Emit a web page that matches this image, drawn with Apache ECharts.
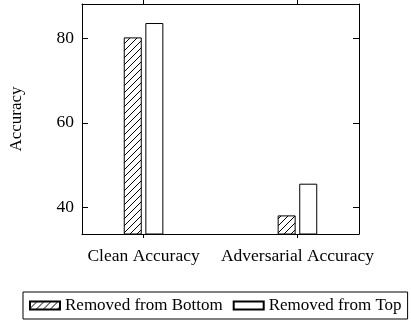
<!DOCTYPE html>
<html><head><meta charset="utf-8">
<script src="https://cdn.jsdelivr.net/npm/echarts@6/dist/echarts.min.js"></script>
<style>html,body{margin:0;padding:0;background:#fff}#c{width:411px;height:323px}</style>
</head><body><div id="c"></div>
<script>
const categories = ['Clean Accuracy', 'Adversarial Accuracy'];
const removedBottom = [80.2, 38.1];
const removedTop = [83.6, 45.6];
const yTicks = [40, 60, 80];
const seriesNames = ['Removed from Bottom', 'Removed from Top'];

function hatch() {
  const s = 7;
  const c = document.createElement('canvas');
  c.width = s; c.height = s;
  const g = c.getContext('2d');
  g.fillStyle = '#fff'; g.fillRect(0, 0, s, s);
  g.strokeStyle = '#000'; g.lineWidth = 1;
  g.beginPath();
  g.moveTo(-1, s + 1); g.lineTo(s + 1, -1);
  g.moveTo(-1, 1); g.lineTo(1, -1);
  g.moveTo(s - 1, s + 1); g.lineTo(s + 1, s - 1);
  g.stroke();
  return c;
}
const font = 'Liberation Serif';
const chart = echarts.init(document.getElementById('c'), null, {renderer: 'canvas'});
const xIdx = categories.map((_, i) => i);
const axLine = {show: true, onZero: false, lineStyle: {color: '#000', width: 1}};
chart.setOption({
  animation: false,
  textStyle: {fontFamily: font, color: '#000'},
  grid: {left: 78, right: 52, top: 4, bottom: 89},
  legend: {
    left: 23, top: 292, padding: [5, 6, 5, 6], itemGap: 10,
    borderColor: '#000', borderWidth: 1,
    itemWidth: 30, itemHeight: 8, icon: 'rect',
    textStyle: {fontFamily: font, fontSize: 17, color: '#000'},
    data: seriesNames
  },
  xAxis: [{
    type: 'value', min: -0.4, max: 1.4, position: 'bottom',
    axisLine: axLine, splitLine: {show: false},
    axisTick: {show: true, inside: false, length: 4, customValues: xIdx, lineStyle: {color: '#000'}},
    axisLabel: {customValues: xIdx, margin: 13, fontSize: 17.5, fontFamily: font, color: '#000',
      formatter: v => categories[Math.round(v)]}
  }, {
    type: 'value', min: -0.4, max: 1.4, position: 'top',
    axisLine: axLine, splitLine: {show: false},
    axisTick: {show: true, inside: false, length: 4, customValues: xIdx, lineStyle: {color: '#000'}},
    axisLabel: {show: false}
  }],
  yAxis: [{
    type: 'value', min: 33.7, max: 88.1, position: 'left',
    name: 'Accuracy', nameLocation: 'middle', nameGap: 57, nameRotate: 90,
    nameTextStyle: {fontFamily: font, fontSize: 17, color: '#000'},
    axisLine: axLine, splitLine: {show: false},
    axisTick: {show: true, inside: true, length: 6, customValues: yTicks, lineStyle: {color: '#000'}},
    axisLabel: {customValues: yTicks, margin: 8, fontSize: 17.5, fontFamily: font, color: '#000'}
  }, {
    type: 'value', min: 33.7, max: 88.1, position: 'right',
    axisLine: axLine, splitLine: {show: false},
    axisTick: {show: true, inside: true, length: 6, customValues: yTicks, lineStyle: {color: '#000'}},
    axisLabel: {show: false}
  }],
  series: [{
    name: seriesNames[0], type: 'bar', xAxisIndex: 0, yAxisIndex: 0,
    barWidth: 18, barGap: '20%',
    itemStyle: {color: {image: hatch(), repeat: 'repeat'}, borderColor: '#000', borderWidth: 1},
    data: removedBottom.map((v, i) => [i, v])
  }, {
    name: seriesNames[1], type: 'bar', xAxisIndex: 0, yAxisIndex: 0,
    barWidth: 18, barGap: '20%',
    itemStyle: {color: '#fff', borderColor: '#000', borderWidth: 1},
    data: removedTop.map((v, i) => [i, v])
  }]
});
</script></body></html>
